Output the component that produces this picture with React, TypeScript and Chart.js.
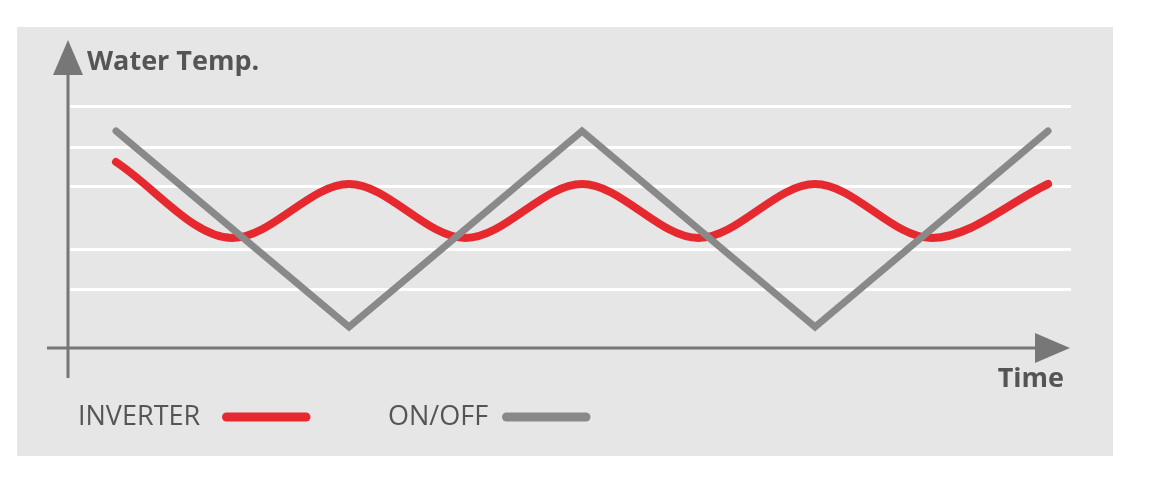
import React, { useEffect, useRef } from "react";
import { Chart, registerables } from "chart.js";

Chart.register(...registerables);

// ---- data (time units: one half-cycle = 1) ----
const inverterTime = [0, 1, 2, 3, 4, 5, 6, 7, 8];
const inverterTemp = [18.6, 11.0, 16.4, 11.0, 16.4, 11.0, 16.4, 11.0, 16.4];
const onOffTime = [0, 2, 4, 6, 8];
const onOffTemp = [21.7, 2.1, 21.7, 2.1, 21.7];
const gridTemps = [5.9, 9.9, 16.2, 20.1, 24.1];
const seriesLabels = ["INVERTER", "ON/OFF"];
const yTitle = "Water Temp.";
const xTitle = "Time";

const RED = "#e5292f";
const GREY = "#898989";
const AXIS = "#777777";
const TEXT = "#555555";
const PANEL = "#e6e6e6";
const FONT = "'Open Sans', 'Noto Sans', sans-serif";

const decorPlugin = {
  id: "decor",
  beforeDraw(chart: any) {
    const { ctx, width, height } = chart;
    ctx.save();
    ctx.fillStyle = "#ffffff";
    ctx.fillRect(0, 0, width, height);
    ctx.fillStyle = PANEL;
    ctx.fillRect(17, 27, 1096, 429);
    ctx.restore();
  },
  beforeDatasetsDraw(chart: any) {
    const { ctx, chartArea, scales } = chart;
    const y0 = scales.y.getPixelForValue(0);
    const ax = chartArea.left - 2;
    ctx.save();
    ctx.strokeStyle = AXIS;
    ctx.fillStyle = AXIS;
    ctx.lineWidth = 3;
    // y axis
    ctx.beginPath();
    ctx.moveTo(ax, y0 + 30);
    ctx.lineTo(ax, chartArea.top + 36);
    ctx.stroke();
    ctx.beginPath();
    ctx.moveTo(ax, chartArea.top + 2);
    ctx.lineTo(ax - 15, chartArea.top + 37);
    ctx.lineTo(ax + 15, chartArea.top + 37);
    ctx.closePath();
    ctx.fill();
    // x axis
    const tipX = chartArea.right - 1;
    ctx.beginPath();
    ctx.moveTo(ax - 21, y0);
    ctx.lineTo(tipX - 34, y0);
    ctx.stroke();
    ctx.beginPath();
    ctx.moveTo(tipX, y0);
    ctx.lineTo(tipX - 35, y0 - 15);
    ctx.lineTo(tipX - 35, y0 + 15);
    ctx.closePath();
    ctx.fill();
    ctx.restore();
  },
  afterDraw(chart: any) {
    const { ctx, chartArea, scales } = chart;
    const y0 = scales.y.getPixelForValue(0);
    const ax = chartArea.left - 2;
    ctx.save();
    ctx.fillStyle = TEXT;
    ctx.textBaseline = "alphabetic";
    ctx.font = `bold 27px ${FONT}`;
    ctx.textAlign = "left";
    ctx.fillText(yTitle, ax + 19, chartArea.top + 32);
    ctx.textAlign = "right";
    ctx.fillText(xTitle, chartArea.right - 7, y0 + 39);
    // legend
    ctx.font = `27px ${FONT}`;
    ctx.textAlign = "left";
    const legendY = y0 + 77;
    const textStarts = [78, 388];
    const lineStarts = [222, 502];
    chart.data.datasets.forEach((ds: any, i: number) => {
      ctx.fillStyle = TEXT;
      ctx.fillText(ds.label, textStarts[i], legendY);
      ctx.strokeStyle = ds.borderColor;
      ctx.lineWidth = 9;
      ctx.lineCap = "round";
      ctx.beginPath();
      ctx.moveTo(lineStarts[i] + 4.5, legendY - 8);
      ctx.lineTo(lineStarts[i] + 84, legendY - 8);
      ctx.stroke();
    });
    ctx.restore();
  },
};

export default function App() {
  const ref = useRef<HTMLCanvasElement | null>(null);
  useEffect(() => {
    if (!ref.current) return;
    const chart = new Chart(ref.current, {
      type: "line",
      data: {
        datasets: [
          {
            label: seriesLabels[0],
            data: inverterTime.map((t, i) => ({ x: t, y: inverterTemp[i] })),
            borderColor: RED,
            borderWidth: 8,
            borderCapStyle: "round",
            borderJoinStyle: "round",
            cubicInterpolationMode: "monotone",
            pointRadius: 0,
            fill: false,
            order: 1,
          },
          {
            label: seriesLabels[1],
            data: onOffTime.map((t, i) => ({ x: t, y: onOffTemp[i] })),
            borderColor: GREY,
            borderWidth: 7,
            borderCapStyle: "round",
            borderJoinStyle: "miter",
            tension: 0,
            pointRadius: 0,
            fill: false,
            order: 0,
          },
        ],
      },
      options: {
        animation: false,
        responsive: false,
        maintainAspectRatio: false,
        layout: { padding: { left: 70, right: 81, top: 38, bottom: 147 } },
        plugins: { legend: { display: false }, tooltip: { enabled: false } },
        scales: {
          x: {
            type: "linear",
            min: -0.395,
            max: 8.197,
            display: true,
            grid: { display: false, drawTicks: false },
            border: { display: false },
            ticks: { display: false },
          },
          y: {
            type: "linear",
            min: 0,
            max: 31,
            display: true,
            afterBuildTicks: (scale: any) => {
              scale.ticks = gridTemps.map((v) => ({ value: v }));
            },
            grid: { color: "#ffffff", lineWidth: 3, drawTicks: false },
            border: { display: false },
            ticks: { display: false },
          },
        },
      },
      plugins: [decorPlugin],
    } as any);
    return () => chart.destroy();
  }, []);
  return (
    <div style={{ position: "fixed", left: 0, top: 0, width: 1152, height: 495 }}>
      <canvas ref={ref} width={1152} height={495} style={{ display: "block" }} />
    </div>
  );
}
